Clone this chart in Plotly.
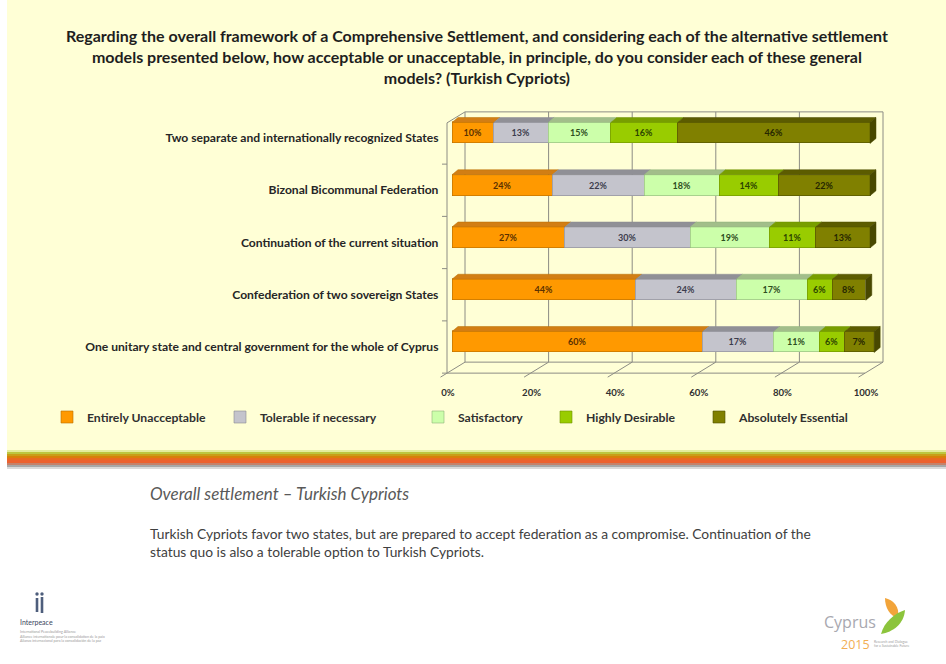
import plotly.graph_objects as go

W, H = 946, 664

# ---------------------------------------------------------------- data
categories = [
    "One unitary state and central government for the whole of Cyprus",
    "Confederation of two sovereign States",
    "Continuation of the current situation",
    "Bizonal Bicommunal Federation",
    "Two separate and internationally recognized States",
]
series_names = [
    "Entirely Unacceptable",
    "Tolerable if necessary",
    "Satisfactory",
    "Highly Desirable",
    "Absolutely Essential",
]
entirely_unacceptable = [60, 44, 27, 24, 10]
tolerable_if_necessary = [17, 24, 30, 22, 13]
satisfactory = [11, 17, 19, 18, 15]
highly_desirable = [6, 6, 11, 14, 16]
absolutely_essential = [7, 8, 13, 22, 46]
series_values = [
    entirely_unacceptable,
    tolerable_if_necessary,
    satisfactory,
    highly_desirable,
    absolutely_essential,
]
x_tick_values = [0, 20, 40, 60, 80, 100]
x_tick_labels = ["0%", "20%", "40%", "60%", "80%", "100%"]

title_text = (
    "Regarding the overall framework of a Comprehensive Settlement, and considering each of the alternative settlement<br>"
    "models presented below, how acceptable or unacceptable, in principle, do you consider each of these general<br>"
    "models? (Turkish Cypriots)"
)
subtitle_text = "Overall settlement \u2013 Turkish Cypriots"
body_text = (
    "Turkish Cypriots favor two states, but are prepared to accept federation as a compromise. Continuation of the<br>"
    "status quo is also a tolerable option to Turkish Cypriots."
)

# ---------------------------------------------------------------- style
FONT = "Lato"
YELLOW = "#FFFFD6"
GRID = "#8C8C84"
front_colors = ["#FF9900", "#C4C4CC", "#CCFFAA", "#99CC00", "#808000"]
top_colors = ["#D27E14", "#909096", "#A2BE8A", "#789E00", "#5C5C00"]
edge_colors = ["#B86E00", "#8A8A92", "#8FB47A", "#6E9000", "#4E4E00"]
label_colors = ["#5A3000", "#3C3C4C", "#2E4E1E", "#2C4400", "#262600"]
side_color = "#484800"

# pixel geometry of the 3-D plot box
X0_PX, UX = 452, 4.18      # pixel of 0 % and pixels per percent
Y0_PX, UY = 347, 52.25     # pixel of first category and pixels per category
X_RANGE = [-3, 105]
Y_RANGE = [-0.632, 4.574]

x_dom = [(X0_PX + X_RANGE[0] * UX) / W, (X0_PX + X_RANGE[1] * UX) / W]
y_dom = [1 - (Y0_PX - Y_RANGE[0] * UY) / H, 1 - (Y0_PX - Y_RANGE[1] * UY) / H]


def px(x, y):
    return x / W, 1 - y / H


# depth offsets in data units
BAR_DX, BAR_DY = 6 / UX, 5 / UY
BACK_DX = 13 / UX
FRONT_DX = -5 / UX
DEPTH_DY = 11 / UY
FLOOR_FRONT = -0.5
FLOOR_BACK = FLOOR_FRONT + DEPTH_DY
WALL_TOP = len(categories) - 0.5
FRONT_TOP = WALL_TOP - DEPTH_DY

BAR_W = 21 / UY
BAR_SHIFT = 5 / UY
BAR_OFF = BAR_SHIFT - BAR_W / 2

y_pos = list(range(len(categories)))

fig = go.Figure()

for n, (name, vals) in enumerate(zip(series_names, series_values)):
    fig.add_trace(go.Bar(
        y=y_pos,
        x=vals,
        orientation="h",
        name=name,
        width=BAR_W,
        offset=BAR_OFF,
        marker=dict(color=front_colors[n], line=dict(color=edge_colors[n], width=0.6)),
        text=[f"{v}%" for v in vals],
        texttemplate="%{text}",
        textposition="inside",
        insidetextanchor="middle",
        textangle=0,
        constraintext="none",
        textfont=dict(family=FONT, size=9, color=label_colors[n], weight="bold"),
        legend="legend" if n == 0 else f"legend{n + 1}",
        hoverinfo="x+name",
    ))

shapes = []


def line(x0, y0, x1, y1, color=GRID, width=1, layer="below"):
    shapes.append(dict(type="line", xref="x", yref="y", x0=x0, y0=y0, x1=x1, y1=y1,
                       line=dict(color=color, width=width), layer=layer))


# back wall: gridlines and frame
for v in x_tick_values:
    line(v + BACK_DX, FLOOR_BACK, v + BACK_DX, WALL_TOP)
line(x_tick_values[0] + BACK_DX, WALL_TOP, x_tick_values[-1] + BACK_DX, WALL_TOP)
line(x_tick_values[0] + BACK_DX, FLOOR_BACK, x_tick_values[-1] + BACK_DX, FLOOR_BACK)

# floor: front edge and receding tick lines
line(x_tick_values[0] + FRONT_DX, FLOOR_FRONT, x_tick_values[-1] + FRONT_DX, FLOOR_FRONT)
for v in x_tick_values:
    line(v + BACK_DX, FLOOR_BACK, v + FRONT_DX - 6.5 / UX, FLOOR_FRONT - 4 / UY)

# left wall
line(x_tick_values[0] + FRONT_DX, FLOOR_FRONT, x_tick_values[0] + FRONT_DX, FRONT_TOP)
line(x_tick_values[0] + FRONT_DX, FRONT_TOP, x_tick_values[0] + BACK_DX, WALL_TOP)
for k in range(len(categories)):
    yb = k - 0.5
    line(x_tick_values[0] + FRONT_DX, yb, x_tick_values[0] + FRONT_DX - 5 / UX, yb)

# top and side faces of the stacked bars
for i, yp in enumerate(y_pos):
    yt = yp + BAR_OFF + BAR_W
    yb = yp + BAR_OFF
    start = 0
    for n, vals in enumerate(series_values):
        end = start + vals[i]
        shapes.append(dict(
            type="path", xref="x", yref="y", layer="above",
            path=(f"M {start},{yt} L {end},{yt} L {end + BAR_DX},{yt + BAR_DY} "
                  f"L {start + BAR_DX},{yt + BAR_DY} Z"),
            fillcolor=top_colors[n], line=dict(color=edge_colors[n], width=0.5),
        ))
        start = end
    shapes.append(dict(
        type="path", xref="x", yref="y", layer="above",
        path=(f"M {start},{yb} L {start},{yt} L {start + BAR_DX},{yt + BAR_DY} "
              f"L {start + BAR_DX},{yb + BAR_DY} Z"),
        fillcolor=side_color, line=dict(color=side_color, width=0.5),
    ))

# slide background, colour band and logos (paper coordinates)
x_a, y_a = px(7, 0)
x_b, y_b = px(W, 450)
shapes.append(dict(type="rect", xref="paper", yref="paper", x0=x_a, y0=y_b, x1=x_b, y1=y_a,
                   fillcolor=YELLOW, line=dict(width=0), layer="below"))

band = [
    (450, 452, "#E4EC9C"), (452, 454, "#BCC640"), (454, 456, "#C89E18"),
    (456, 458, "#D8800A"), (458, 460, "#E86A20"), (460, 463, "#EC6230"),
    (463, 465, "#C4826C"), (465, 467, "#A8A8A8"), (467, 469, "#DADADA"),
]
for t, b, c in band:
    xa, ya = px(7, t)
    xb, yb_ = px(W, b)
    shapes.append(dict(type="rect", xref="paper", yref="paper", x0=xa, y0=yb_, x1=xb, y1=ya,
                       fillcolor=c, line=dict(width=0), layer="below"))

# Interpeace mark: two stylised figures
for cx, top, bottom in [(37, 598, 612), (42, 597, 613)]:
    hx0, hy0 = px(cx - 1.7, 592.3)
    hx1, hy1 = px(cx + 1.7, 595.7)
    shapes.append(dict(type="circle", xref="paper", yref="paper", x0=hx0, y0=hy1, x1=hx1, y1=hy0,
                       fillcolor="#4E5E7C", line=dict(width=0)))
    bx0, by0 = px(cx - 1.3, top)
    bx1, by1 = px(cx + 1.3, bottom)
    shapes.append(dict(type="rect", xref="paper", yref="paper", x0=bx0, y0=by1, x1=bx1, y1=by0,
                       fillcolor="#4E5E7C", line=dict(width=0)))


def leaf(points, color):
    parts = []
    for k, (x, y) in enumerate(points):
        xx, yy = px(x, y)
        parts.append(("M " if k == 0 else ("C " if k % 3 == 1 else "")) + f"{xx:.5f},{yy:.5f}")
    shapes.append(dict(type="path", xref="paper", yref="paper",
                       path=" ".join(parts) + " Z", fillcolor=color, line=dict(width=0)))


# Cyprus 2015 leaf mark
leaf([(885, 598), (893, 600), (900, 606), (898, 618), (890, 616), (885, 608), (885, 598)], "#F2A43A")
leaf([(881, 634), (884, 622), (895, 613), (905, 610), (904, 624), (893, 632), (881, 634)], "#8CC43C")

annotations = [
    dict(text=title_text, x=px(477, 0)[0], y=px(0, 24)[1], xref="paper", yref="paper",
         xanchor="center", yanchor="top", showarrow=False, align="center",
         font=dict(family=FONT, size=16, color="#1E1E1E", weight="bold")),
    dict(text=subtitle_text, x=px(148, 0)[0], y=px(0, 493)[1], xref="paper", yref="paper",
         xanchor="left", yanchor="middle", showarrow=False,
         font=dict(family=FONT, size=17, color="#595959", style="italic")),
    dict(text=body_text, x=px(148, 0)[0], y=px(0, 523)[1], xref="paper", yref="paper",
         xanchor="left", yanchor="top", showarrow=False, align="left",
         font=dict(family=FONT, size=13.8, color="#404040")),
    dict(text="Interpeace", x=px(18, 0)[0], y=px(0, 622)[1], xref="paper", yref="paper",
         xanchor="left", yanchor="middle", showarrow=False,
         font=dict(family=FONT, size=7, color="#3A4660")),
    dict(text=("International Peacebuilding Alliance<br>"
               "Alliance internationale pour la consolidation de la paix<br>"
               "Alianza internacional para la consolidaci\u00f3n de la paz"),
         x=px(18, 0)[0], y=px(0, 627)[1], xref="paper", yref="paper",
         xanchor="left", yanchor="top", showarrow=False, align="left",
         font=dict(family=FONT, size=3.6, color="#9A9A9A")),
    dict(text="Cyprus", x=px(822, 0)[0], y=px(0, 622)[1], xref="paper", yref="paper",
         xanchor="left", yanchor="middle", showarrow=False,
         font=dict(family="Open Sans", size=16, color="#A8A8B0")),
    dict(text="2015", x=px(839, 0)[0], y=px(0, 644)[1], xref="paper", yref="paper",
         xanchor="left", yanchor="middle", showarrow=False,
         font=dict(family="Open Sans", size=12.5, color="#F2AE52")),
    dict(text="Research and Dialogue<br>for a Sustainable Future",
         x=px(872, 0)[0], y=px(0, 644)[1], xref="paper", yref="paper",
         xanchor="left", yanchor="middle", showarrow=False, align="left",
         font=dict(family=FONT, size=3.4, color="#A0A0A0")),
]

fig.update_layout(
    width=W, height=H, autosize=False,
    margin=dict(l=0, r=0, t=0, b=0, pad=0),
    paper_bgcolor="white",
    plot_bgcolor="rgba(0,0,0,0)",
    barmode="stack",
    bargap=0,
    shapes=shapes,
    annotations=annotations,
    showlegend=True,
    xaxis=dict(
        domain=x_dom, range=X_RANGE, tickvals=x_tick_values, ticktext=x_tick_labels,
        showgrid=False, zeroline=False, showline=False, ticks="",
        ticklabelshift=-4, ticklabelstandoff=5, automargin=False,
        tickfont=dict(family=FONT, size=9.6, color="#303030", weight="bold"),
        fixedrange=True,
    ),
    yaxis=dict(
        domain=y_dom, range=Y_RANGE, tickvals=y_pos, ticktext=categories,
        showgrid=False, zeroline=False, showline=False, ticks="",
        automargin=False,
        tickfont=dict(family=FONT, size=12.1, color="#262626", weight="bold"),
        fixedrange=True,
    ),
)

legend_text_starts = [87, 260, 458, 586, 739]
for n, xs in enumerate(legend_text_starts):
    key = "legend" if n == 0 else f"legend{n + 1}"
    fig.update_layout({key: dict(
        x=(xs - 40) / W, y=1 - 417 / H, xanchor="left", yanchor="middle",
        orientation="h", bgcolor="rgba(0,0,0,0)", borderwidth=0,
        font=dict(family=FONT, size=12.2, color="#303030", weight="bold"),
        itemclick=False, itemdoubleclick=False,
    )})

fig.write_html("out.html")
